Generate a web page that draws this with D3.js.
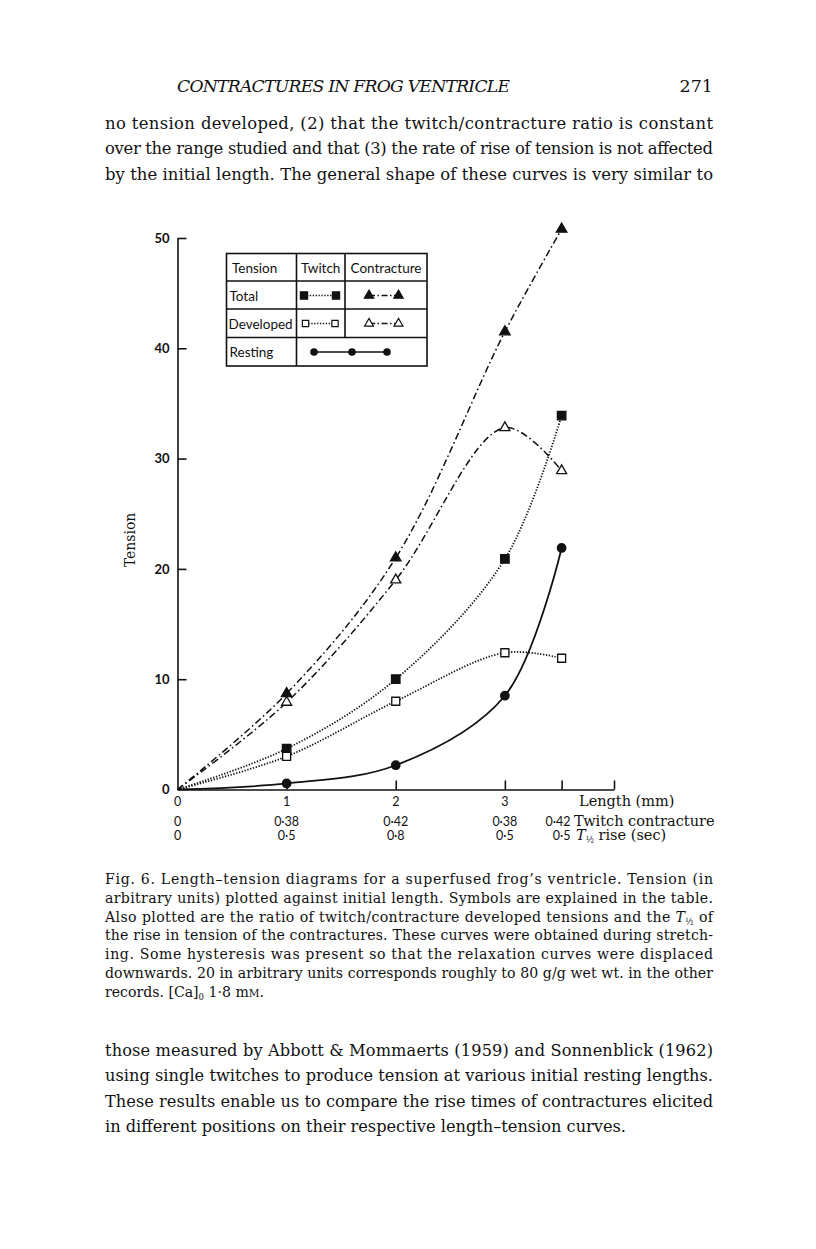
<!DOCTYPE html>
<html><head><meta charset="utf-8">
<script src="https://cdn.jsdelivr.net/npm/d3@7"></script>
<style>body{margin:0;background:#fff} svg{display:block}</style>
</head><body>
<script>
// ---- data ----
const lengths = [0, 1, 2, 3, 3.52];
const totalContracture = [0, 8.7, 21.0, 41.5, 50.8];
const developedContracture = [0, 7.9, 19.0, 32.8, 28.9];
const totalTwitch = [0, 3.7, 10.0, 20.9, 33.9];
const developedTwitch = [0, 3.0, 8.0, 12.4, 11.9];
const resting = [0, 0.55, 2.2, 8.5, 21.9];
const yTicks = [0, 10, 20, 30, 40, 50];
const xTickMarks = [1, 2, 3, 3.52, 4];
const lengthLabels = ["0", "1", "2", "3", ""];
const twitchRatio = ["0", "0·38", "0·42", "0·38", "0·42"];
const riseHalf = ["0", "0·5", "0·8", "0·5", "0·5"];

const W = 816, H = 1249;
const ink = "#111";
const serif = "'DejaVu Serif', serif";
const sans = "Lato, 'Open Sans', sans-serif";
const svg = d3.select("body").append("svg").attr("width", W).attr("height", H);

function addText(x, yy, segs, opts = {}) {
  const t = svg.append("text").attr("x", x).attr("y", yy)
    .attr("font-family", opts.family || serif).attr("font-size", opts.size || 15).attr("fill", ink);
  if (opts.anchor) t.attr("text-anchor", opts.anchor);
  if (opts.italic) t.attr("font-style", "italic");
  if (opts.len) t.attr("textLength", opts.len).attr("lengthAdjust", "spacing");
  segs.forEach(s => {
    if (typeof s === "string") { t.append("tspan").text(s); return; }
    const ts = t.append("tspan").text(s.t);
    if (s.italic) ts.attr("font-style", "italic");
    if (s.fs) ts.attr("font-size", s.fs);
    if (s.shift) ts.attr("baseline-shift", s.shift);
  });
  return t;
}

// ---- page text ----
addText(177, 92, ["CONTRACTURES IN FROG VENTRICLE"], {italic: true, size: 17.2, len: 333});
addText(713, 92, ["271"], {size: 17.5, anchor: "end"});
const topLines = [
  "no tension developed, (2) that the twitch/contracture ratio is constant",
  "over the range studied and that (3) the rate of rise of tension is not affected",
  "by the initial length. The general shape of these curves is very similar to"
];
topLines.forEach((s, i) => addText(105, 129 + i * 25.3, [s], {size: 16.4, len: 608}));

const half = {t: "½", fs: 8.5, shift: "-3"};
const caption = [
  ["Fig. 6. Length–tension diagrams for a superfused frog’s ventricle. Tension (in"],
  ["arbitrary units) plotted against initial length. Symbols are explained in the table."],
  ["Also plotted are the ratio of twitch/contracture developed tensions and the ", {t: "T", italic: true}, half, " of"],
  ["the rise in tension of the contractures. These curves were obtained during stretch-"],
  ["ing. Some hysteresis was present so that the relaxation curves were displaced"],
  ["downwards. 20 in arbitrary units corresponds roughly to 80 g/g wet wt. in the other"],
  ["records. [Ca]", {t: "0", fs: 8.5, shift: "-3"}, " 1·8 m", {t: "M", fs: 10.5}, "."]
];
caption.forEach((s, i) => addText(105, 884 + i * 18.8, s, {size: 14.1, len: i < 6 ? 608 : null}));

const bottomLines = [
  "those measured by Abbott & Mommaerts (1959) and Sonnenblick (1962)",
  "using single twitches to produce tension at various initial resting lengths.",
  "These results enable us to compare the rise times of contractures elicited",
  "in different positions on their respective length–tension curves."
];
bottomLines.forEach((s, i) => addText(105, 1056 + i * 25.3, [s], {size: 16.2, len: i < 3 ? 608 : null}));

// ---- chart ----
const x = d3.scaleLinear().domain([0, 4]).range([177.5, 614]);
const y = d3.scaleLinear().domain([0, 50]).range([789.5, 238]);

svg.append("g").attr("transform", `translate(0,${y(0)})`)
  .call(d3.axisTop(x).tickValues(xTickMarks).tickSize(9).tickSizeOuter(0).tickFormat(""))
  .call(g => g.selectAll("path,line").attr("stroke", ink).attr("stroke-width", 1.6));
svg.append("g").attr("transform", `translate(${x(0)},0)`)
  .call(d3.axisRight(y).tickValues(yTicks.slice(1)).tickSize(9).tickSizeOuter(0).tickFormat(""))
  .call(g => g.selectAll("path,line").attr("stroke", ink).attr("stroke-width", 1.6));
svg.append("g").attr("transform", `translate(${x(0)},0)`)
  .call(d3.axisLeft(y).tickValues(yTicks).tickSize(0).tickPadding(8))
  .call(g => g.select(".domain").remove())
  .call(g => g.selectAll("text").attr("font-family", sans).attr("font-size", 13)
    .attr("font-weight", 700).attr("fill", ink));

svg.append("text").attr("transform", `translate(135,540) rotate(-90)`)
  .attr("text-anchor", "middle").attr("font-family", serif).attr("font-size", 14)
  .attr("fill", ink).text("Tension");

// x label rows
const rows = [[lengthLabels, 806], [twitchRatio, 826], [riseHalf, 840]];
rows.forEach(([labels, yy]) => {
  labels.forEach((lab, i) => {
    if (!lab) return;
    const last = i === labels.length - 1;
    svg.append("text").attr("x", last ? x(lengths[i]) + 9 : x(lengths[i])).attr("y", yy)
      .attr("text-anchor", last ? "end" : "middle")
      .attr("font-family", sans).attr("font-size", 12.5).attr("fill", ink).text(lab);
  });
});
addText(579, 806, ["Length (mm)"], {size: 14.5});
addText(574, 826, ["Twitch contracture"], {size: 14.5});
addText(576, 840, [{t: "T", italic: true}, {t: "½", fs: 8.5, shift: "-3"}, " rise (sec)"], {size: 14.5});

// curves
const line = d3.line().x(d => x(d[0])).y(d => y(d[1])).curve(d3.curveCatmullRom.alpha(0.5));
const series = [
  {v: totalContracture, dash: "7,3,1.6,3", w: 1.5, sym: d3.symbolTriangle, size: 48, fill: ink},
  {v: developedContracture, dash: "7,3,1.6,3", w: 1.5, sym: d3.symbolTriangle, size: 44, fill: "#fff"},
  {v: totalTwitch, dash: "1.3,1.6", w: 1.8, sym: d3.symbolSquare, size: 72, fill: ink},
  {v: developedTwitch, dash: "1.3,1.6", w: 1.8, sym: d3.symbolSquare, size: 64, fill: "#fff"},
  {v: resting, dash: null, w: 1.8, sym: d3.symbolCircle, size: 56, fill: ink}
];
series.forEach(s => {
  const pts = lengths.map((l, i) => [l, s.v[i]]);
  svg.append("path").datum(pts).attr("d", line).attr("fill", "none")
    .attr("stroke", ink).attr("stroke-width", s.w).attr("stroke-dasharray", s.dash);
});
series.forEach(s => {
  const pts = lengths.map((l, i) => [l, s.v[i]]).slice(1);
  svg.append("g").selectAll("path").data(pts).join("path")
    .attr("transform", d => `translate(${x(d[0])},${y(d[1])})`)
    .attr("d", d3.symbol(s.sym, s.size)).attr("fill", s.fill)
    .attr("stroke", ink).attr("stroke-width", 1.3);
});

// legend table
const lg = svg.append("g").attr("stroke", ink).attr("stroke-width", 1.6).attr("fill", "none");
lg.append("rect").attr("x", 226.5).attr("y", 253.5).attr("width", 200.5).attr("height", 112.5);
[281, 309, 337.5].forEach(yy => lg.append("line").attr("x1", 226.5).attr("x2", 427).attr("y1", yy).attr("y2", yy));
lg.append("line").attr("x1", 296.5).attr("x2", 296.5).attr("y1", 253.5).attr("y2", 366);
lg.append("line").attr("x1", 345).attr("x2", 345).attr("y1", 253.5).attr("y2", 337.5);

const lt = (xx, yy, s, anchor) => svg.append("text").attr("x", xx).attr("y", yy)
  .attr("text-anchor", anchor || "start").attr("font-family", sans).attr("font-size", 13.5)
  .attr("fill", ink).text(s);
lt(232, 273, "Tension"); lt(320.7, 273, "Twitch", "middle"); lt(386, 273, "Contracture", "middle");
lt(229.5, 300.5, "Total"); lt(228.5, 328.5, "Developed"); lt(229.5, 357, "Resting");

function legendPair(x1, x2, yy, sym, size, fill, dash) {
  svg.append("line").attr("x1", x1).attr("x2", x2).attr("y1", yy).attr("y2", yy)
    .attr("stroke", ink).attr("stroke-width", dash === "1.3,1.6" ? 1.7 : 1.5).attr("stroke-dasharray", dash);
  [x1, x2].forEach(xx => svg.append("path").attr("transform", `translate(${xx},${yy})`)
    .attr("d", d3.symbol(sym, size)).attr("fill", fill).attr("stroke", ink).attr("stroke-width", 1.2));
}
legendPair(304, 336, 295.5, d3.symbolSquare, 52, ink, "1.3,1.6");
legendPair(369, 398.5, 295.5, d3.symbolTriangle, 38, ink, "6,2.5,1.5,2.5");
legendPair(305.5, 335, 323.5, d3.symbolSquare, 40, "#fff", "1.3,1.6");
legendPair(369, 398.5, 323.5, d3.symbolTriangle, 34, "#fff", "6,2.5,1.5,2.5");
svg.append("line").attr("x1", 314).attr("x2", 387).attr("y1", 352).attr("y2", 352)
  .attr("stroke", ink).attr("stroke-width", 1.6);
[314, 352, 387].forEach(xx => svg.append("circle").attr("cx", xx).attr("cy", 352).attr("r", 3.8).attr("fill", ink));
</script>
</body></html>
